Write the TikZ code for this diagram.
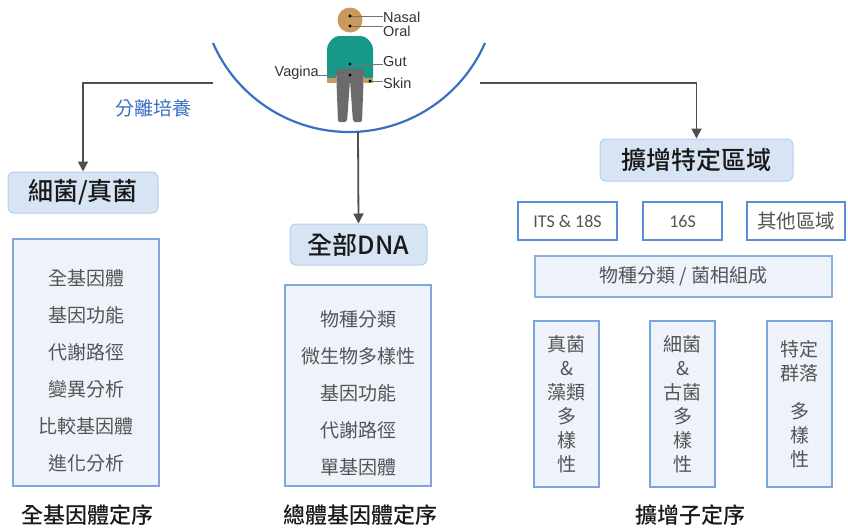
\documentclass[tikz,border=0pt]{standalone}
\usepackage{fontspec}
\setmainfont{Liberation Sans}
\newfontfamily\cjk{Noto Sans CJK TC}
\newfontfamily\cjkmed{Noto Sans CJK TC Medium}
\newfontfamily\calib{Carlito}
\usetikzlibrary{arrows.meta}

\definecolor{arcblue}{HTML}{3A70C4}
\definecolor{headfill}{HTML}{D6E4F3}
\definecolor{headline}{HTML}{B9CFEA}
\definecolor{listfill}{HTML}{EEF2FA}
\definecolor{listline}{HTML}{7FA7DC}
\definecolor{tagline}{HTML}{5B8ED6}
\definecolor{linkgray}{HTML}{4F4F4F}
\definecolor{textgray}{HTML}{545454}
\definecolor{skin}{HTML}{C99A5B}
\definecolor{shirt}{HTML}{17998A}
\definecolor{pants}{HTML}{6B6B6B}

\begin{document}
\begin{tikzpicture}[x=1pt,y=-1pt,
    head/.style={draw=headline,line width=1pt,fill=headfill,rounded corners=6pt,
        inner sep=0pt,text=black!90,font=\cjkmed\fontsize{25}{28}\selectfont},
    list/.style={draw=listline,line width=1.2pt,fill=listfill},
    item/.style={text=textgray,align=center,font=\cjk\fontsize{19}{37}\selectfont},
    tag/.style={draw=tagline,line width=1.8pt,fill=white,inner sep=0pt,
        minimum height=38pt,text=textgray},
    column/.style={list,line width=1.5pt,draw=tagline!80,minimum width=65pt,
        minimum height=166pt,align=center,text=textgray,
        font=\cjk\fontsize{19}{24}\selectfont},
    method/.style={text=black!90,font=\cjkmed\fontsize{22}{24}\selectfont},
    link/.style={draw=linkgray,line width=1.8pt,-{Triangle[width=10pt,length=10pt]}},
    site/.style={inner sep=0pt,text=black!80,font=\fontsize{14.5}{15}\selectfont},
    pin/.style={draw=black!55,line width=0.6pt}
]
\useasboundingbox (0,0) rectangle (848,528);
\fill[white] (0,0) rectangle (848,528);

% body with the sampling sites
\fill[shirt,rounded corners=4pt] (327,81) -- (327,45) -- (335,36) -- (365,36)
    -- (373,45) -- (373,81) -- (364,81) -- (364,70) -- (336,70) -- (336,81) -- cycle;
\fill[skin] (327,78) rectangle (336,83);
\fill[skin] (364,78) rectangle (373,83);
\fill[pants,rounded corners=2pt] (336,69) -- (364,69) -- (362,122) -- (353,122)
    -- (350,80) -- (347,122) -- (338,122) -- cycle;
\fill[skin] (350,20) circle[radius=12.5];

\node[site,anchor=west] (nasal) at (383,17) {Nasal};
\node[site,anchor=west] (oral) at (383,31) {Oral};
\node[site,anchor=west] (gut) at (383,62) {Gut};
\node[site,anchor=west] (skinsite) at (383,83) {Skin};
\node[site,anchor=east] (vagina) at (319,73) {Vagina};

\coordinate (pnasal) at (350,16);
\coordinate (poral) at (350,26);
\coordinate (pgut) at (350,64);
\coordinate (pvagina) at (350,75);
\coordinate (pskin) at (370,81);
\draw[pin] (pnasal) -- (pnasal -| nasal.west);
\draw[pin] (poral) -- (poral -| oral.west);
\draw[pin] (pgut) -- (pgut -| gut.west);
\draw[pin] (pskin) -- (pskin -| skinsite.west);
\draw[pin] (pvagina) -- (pvagina -| vagina.east);
\foreach \p in {pnasal,poral,pgut,pvagina,pskin}
    \fill (\p) circle[radius=1.6];

% sample bowl
\draw[arcblue,line width=2.2pt] (213,43) arc[start angle=156.4,end angle=23.6,radius=148.4];

% three routes
\node[head,minimum width=150pt,minimum height=41pt] (bact) at (83,192.5) {細菌/真菌};
\node[head,minimum width=137pt,minimum height=41pt] (dna) at (358.5,244.5) {全部DNA};
\node[head,minimum width=193pt,minimum height=42pt] (amp) at (696.5,160) {擴增特定區域};

\coordinate (cultstart) at (213,83);
\coordinate (ampstart) at (480,83);
\coordinate (arcbot) at (358,132);
\draw[link] (cultstart) -| (bact.north);
\draw[link] (arcbot) -- (dna.north);
\draw[link] (ampstart) -| (amp.north);
\node[text=arcblue,font=\cjk\fontsize{19}{20}\selectfont] (culture) at (153,108) {分離培養};

% whole genome
\node[list,minimum width=146pt,minimum height=247pt] (wgsbox) at (86,362.5) {};
\node[item] (wgsitems) at (86,371) {全基因體\\基因功能\\代謝路徑\\變異分析\\比較基因體\\進化分析};
\node[method] (wgs) at (87,515) {全基因體定序};

% metagenome
\node[list,minimum width=146pt,minimum height=201pt] (metabox) at (358,385.5) {};
\node[item] (metaitems) at (358,393.5) {物種分類\\微生物多樣性\\基因功能\\代謝路徑\\單基因體};
\node[method] (meta) at (360,515) {總體基因體定序};

% amplicon
\node[tag,minimum width=99pt,font=\calib\fontsize{18}{20}\selectfont] (its) at (567.5,221) {ITS \& 18S};
\node[tag,minimum width=79pt,font=\calib\fontsize{18}{20}\selectfont] (s16) at (682.5,221) {16S};
\node[tag,minimum width=98pt,font=\cjk\fontsize{19.5}{20}\selectfont] (other) at (796,221) {其他區域};
\node[list,draw=listline!90,line width=1.5pt,minimum width=297pt,minimum height=41pt,
    text=textgray,font=\cjk\fontsize{19}{20}\selectfont] (taxa) at (683.5,276.5) {物種分類 / 菌相組成};

\node[column] (fungi) at (566.5,404) {真菌\\\&\\藻類\\多\\樣\\性};
\node[column] (archaea) at (682.5,404) {細菌\\\&\\古菌\\多\\樣\\性};
\node[column] (group) at (799.5,404) {特定\\群落\\[14pt]多\\樣\\性};
\node[method] (ampseq) at (690,515) {擴增子定序};
\end{tikzpicture}
\end{document}
